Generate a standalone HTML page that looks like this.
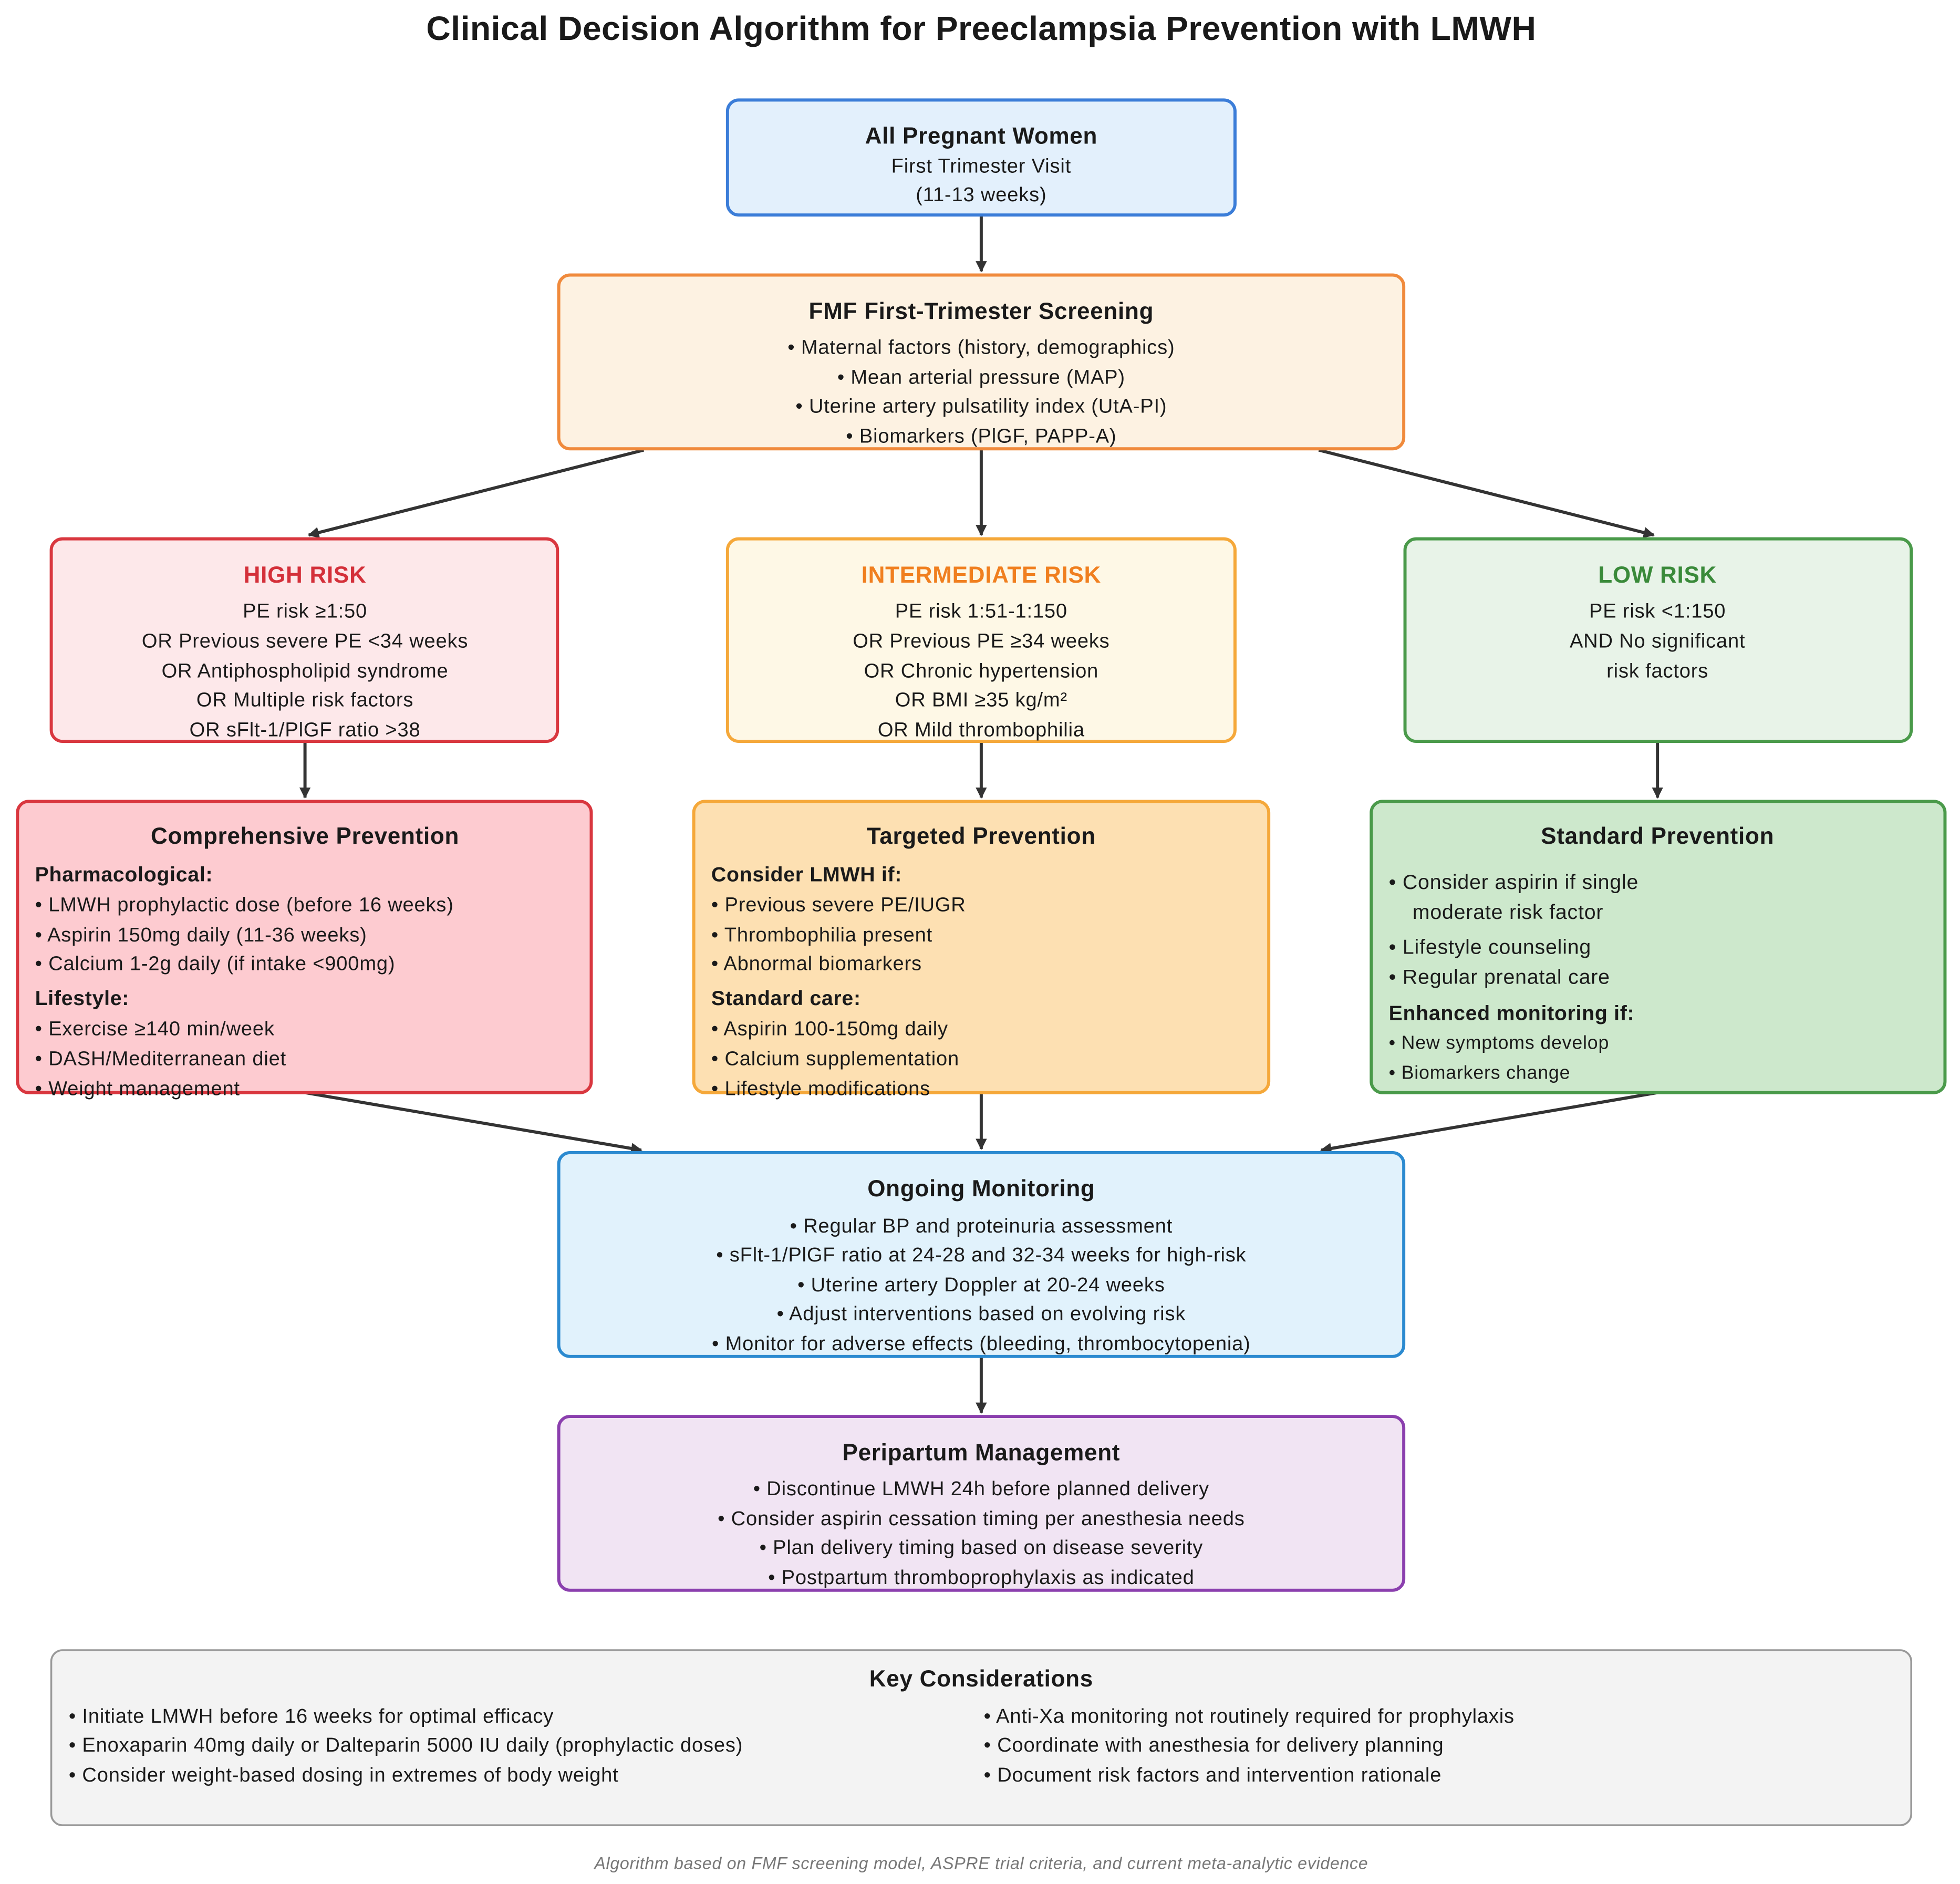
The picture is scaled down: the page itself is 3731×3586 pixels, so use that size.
<!DOCTYPE html>
<html><head><meta charset="utf-8"><style>
html,body{margin:0;padding:0;background:#fff;}
svg{display:block;}
text{font-family:"Liberation Sans",sans-serif;fill:#1a1a1a;}
.t{font-size:16px;letter-spacing:0.35px;}
.s{font-size:15px;letter-spacing:0.35px;}
.h{font-size:18.5px;font-weight:bold;letter-spacing:0.3px;}
.b{font-size:16.5px;font-weight:bold;letter-spacing:0.3px;}
</style></head><body>
<svg width="3731" height="3586" viewBox="0 0 1568 1507" preserveAspectRatio="none" xmlns="http://www.w3.org/2000/svg">
<defs><marker id="a" viewBox="0 0 10 10" refX="9" refY="5" markerWidth="7" markerHeight="7" markerUnits="userSpaceOnUse" orient="auto"><path d="M0,0 L10,5 L0,10 z" fill="#333"/></marker>
<marker id="m" viewBox="0 0 10 10" refX="9" refY="5" markerWidth="9" markerHeight="9" orient="auto" markerUnits="userSpaceOnUse"><path d="M0,0 L10,5 L0,10 z" fill="#333"/></marker></defs>
<text x="785" y="32" text-anchor="middle" style="font-size:27px;font-weight:bold;letter-spacing:0.2px">Clinical Decision Algorithm for Preeclampsia Prevention with LMWH</text>

<g stroke="#333" stroke-width="2.5" fill="none">
<line x1="785" y1="172" x2="785" y2="217" marker-end="url(#m)"/>
<line x1="515" y1="360" x2="247" y2="428" marker-end="url(#m)"/>
<line x1="785" y1="360" x2="785" y2="428" marker-end="url(#m)"/>
<line x1="1055" y1="360" x2="1323" y2="428" marker-end="url(#m)"/>
<line x1="244" y1="593" x2="244" y2="638" marker-end="url(#m)"/>
<line x1="785" y1="593" x2="785" y2="638" marker-end="url(#m)"/>
<line x1="1326" y1="593" x2="1326" y2="638" marker-end="url(#m)"/>
<line x1="244" y1="874" x2="513" y2="920" marker-end="url(#m)"/>
<line x1="785" y1="874" x2="785" y2="919" marker-end="url(#m)"/>
<line x1="1326" y1="874" x2="1057" y2="920" marker-end="url(#m)"/>
<line x1="785" y1="1085" x2="785" y2="1130" marker-end="url(#m)"/>
</g>

<rect x="582" y="80" width="406" height="92" rx="9" fill="#e3f0fc" stroke="#3b7dd8" stroke-width="2.5"/>
<text x="785" y="115" text-anchor="middle" class="h">All Pregnant Women</text>
<text x="785" y="138" text-anchor="middle" class="t">First Trimester Visit</text>
<text x="785" y="161" text-anchor="middle" class="t">(11-13 weeks)</text>

<rect x="447" y="220" width="676" height="139" rx="9" fill="#fdf2e2" stroke="#f08a3c" stroke-width="2.5"/>
<text x="785" y="255" text-anchor="middle" class="h">FMF First-Trimester Screening</text>
<text x="785" y="283" text-anchor="middle" class="t">• Maternal factors (history, demographics)</text>
<text x="785" y="307" text-anchor="middle" class="t">• Mean arterial pressure (MAP)</text>
<text x="785" y="330" text-anchor="middle" class="t">• Uterine artery pulsatility index (UtA-PI)</text>
<text x="785" y="354" text-anchor="middle" class="t">• Biomarkers (PlGF, PAPP-A)</text>

<rect x="41" y="431" width="405" height="162" rx="9" fill="#fde8ea" stroke="#d9373f" stroke-width="2.5"/>
<text x="244" y="466" text-anchor="middle" class="h" style="fill:#d4303a">HIGH RISK</text>
<text x="244" y="494" text-anchor="middle" class="t">PE risk ≥1:50</text>
<text x="244" y="518" text-anchor="middle" class="t">OR Previous severe PE &lt;34 weeks</text>
<text x="244" y="542" text-anchor="middle" class="t">OR Antiphospholipid syndrome</text>
<text x="244" y="565" text-anchor="middle" class="t">OR Multiple risk factors</text>
<text x="244" y="589" text-anchor="middle" class="t">OR sFlt-1/PlGF ratio &gt;38</text>

<rect x="582" y="431" width="406" height="162" rx="9" fill="#fef8e6" stroke="#f5a83a" stroke-width="2.5"/>
<text x="785" y="466" text-anchor="middle" class="h" style="fill:#f07f1f">INTERMEDIATE RISK</text>
<text x="785" y="494" text-anchor="middle" class="t">PE risk 1:51-1:150</text>
<text x="785" y="518" text-anchor="middle" class="t">OR Previous PE ≥34 weeks</text>
<text x="785" y="542" text-anchor="middle" class="t">OR Chronic hypertension</text>
<text x="785" y="565" text-anchor="middle" class="t">OR BMI ≥35 kg/m²</text>
<text x="785" y="589" text-anchor="middle" class="t">OR Mild thrombophilia</text>

<rect x="1124" y="431" width="405" height="162" rx="9" fill="#e8f3e8" stroke="#4a9a4a" stroke-width="2.5"/>
<text x="1326" y="466" text-anchor="middle" class="h" style="fill:#3a8a3a">LOW RISK</text>
<text x="1326" y="494" text-anchor="middle" class="t">PE risk &lt;1:150</text>
<text x="1326" y="518" text-anchor="middle" class="t">AND No significant</text>
<text x="1326" y="542" text-anchor="middle" class="t">risk factors</text>

<rect x="14" y="641" width="459" height="233" rx="9" fill="#fdcbd0" stroke="#d9373f" stroke-width="2.5"/>
<text x="244" y="675" text-anchor="middle" class="h">Comprehensive Prevention</text>
<text x="28" y="705" class="b">Pharmacological:</text>
<text x="28" y="729" class="t">• LMWH prophylactic dose (before 16 weeks)</text>
<text x="28" y="753" class="t">• Aspirin 150mg daily (11-36 weeks)</text>
<text x="28" y="776" class="t">• Calcium 1-2g daily (if intake &lt;900mg)</text>
<text x="28" y="804" class="b">Lifestyle:</text>
<text x="28" y="828" class="t">• Exercise ≥140 min/week</text>
<text x="28" y="852" class="t">• DASH/Mediterranean diet</text>
<text x="28" y="876" class="t">• Weight management</text>

<rect x="555" y="641" width="460" height="233" rx="9" fill="#fde0b2" stroke="#f5a83a" stroke-width="2.5"/>
<text x="785" y="675" text-anchor="middle" class="h">Targeted Prevention</text>
<text x="569" y="705" class="b">Consider LMWH if:</text>
<text x="569" y="729" class="t">• Previous severe PE/IUGR</text>
<text x="569" y="753" class="t">• Thrombophilia present</text>
<text x="569" y="776" class="t">• Abnormal biomarkers</text>
<text x="569" y="804" class="b">Standard care:</text>
<text x="569" y="828" class="t">• Aspirin 100-150mg daily</text>
<text x="569" y="852" class="t">• Calcium supplementation</text>
<text x="569" y="876" class="t">• Lifestyle modifications</text>

<rect x="1097" y="641" width="459" height="233" rx="9" fill="#cde8cc" stroke="#4a9a4a" stroke-width="2.5"/>
<text x="1326" y="675" text-anchor="middle" class="h">Standard Prevention</text>
<text x="1111" y="711" class="t" style="font-size:16.5px">• Consider aspirin if single</text>
<text x="1130" y="735" class="t" style="font-size:16.5px">moderate risk factor</text>
<text x="1111" y="763" class="t" style="font-size:16.5px">• Lifestyle counseling</text>
<text x="1111" y="787" class="t" style="font-size:16.5px">• Regular prenatal care</text>
<text x="1111" y="816" class="b">Enhanced monitoring if:</text>
<text x="1111" y="839" class="s">• New symptoms develop</text>
<text x="1111" y="863" class="s">• Biomarkers change</text>

<rect x="447" y="922" width="676" height="163" rx="9" fill="#e1f2fc" stroke="#2b8ad0" stroke-width="2.5"/>
<text x="785" y="957" text-anchor="middle" class="h">Ongoing Monitoring</text>
<text x="785" y="986" text-anchor="middle" class="t">• Regular BP and proteinuria assessment</text>
<text x="785" y="1009" text-anchor="middle" class="t">• sFlt-1/PlGF ratio at 24-28 and 32-34 weeks for high-risk</text>
<text x="785" y="1033" text-anchor="middle" class="t">• Uterine artery Doppler at 20-24 weeks</text>
<text x="785" y="1056" text-anchor="middle" class="t">• Adjust interventions based on evolving risk</text>
<text x="785" y="1080" text-anchor="middle" class="t">• Monitor for adverse effects (bleeding, thrombocytopenia)</text>

<rect x="447" y="1133" width="676" height="139" rx="9" fill="#f1e4f3" stroke="#8b3fae" stroke-width="2.5"/>
<text x="785" y="1168" text-anchor="middle" class="h">Peripartum Management</text>
<text x="785" y="1196" text-anchor="middle" class="t">• Discontinue LMWH 24h before planned delivery</text>
<text x="785" y="1220" text-anchor="middle" class="t">• Consider aspirin cessation timing per anesthesia needs</text>
<text x="785" y="1243" text-anchor="middle" class="t">• Plan delivery timing based on disease severity</text>
<text x="785" y="1267" text-anchor="middle" class="t">• Postpartum thromboprophylaxis as indicated</text>

<rect x="41" y="1320" width="1488" height="140" rx="9" fill="#f3f3f3" stroke="#999" stroke-width="1.5"/>
<text x="785" y="1349" text-anchor="middle" class="h">Key Considerations</text>
<text x="55" y="1378" class="t">• Initiate LMWH before 16 weeks for optimal efficacy</text>
<text x="55" y="1401" class="t">• Enoxaparin 40mg daily or Dalteparin 5000 IU daily (prophylactic doses)</text>
<text x="55" y="1425" class="t">• Consider weight-based dosing in extremes of body weight</text>
<text x="787" y="1378" class="t">• Anti-Xa monitoring not routinely required for prophylaxis</text>
<text x="787" y="1401" class="t">• Coordinate with anesthesia for delivery planning</text>
<text x="787" y="1425" class="t">• Document risk factors and intervention rationale</text>

<text x="785" y="1495" text-anchor="middle" style="font-size:13.5px;font-style:italic;fill:#777;letter-spacing:0.3px">Algorithm based on FMF screening model, ASPRE trial criteria, and current meta-analytic evidence</text>
</svg>
</body></html>
